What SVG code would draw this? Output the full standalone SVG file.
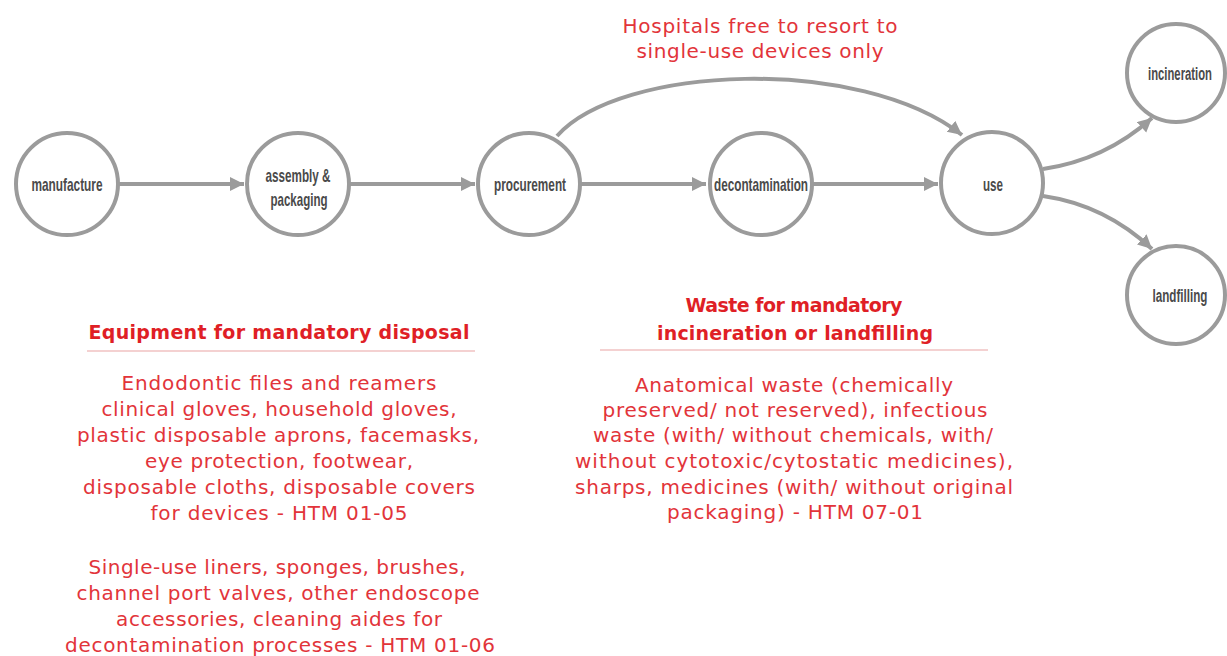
<svg xmlns="http://www.w3.org/2000/svg" width="1227" height="656" viewBox="0 0 1227 656">
<style>
.node circle{fill:#fff;stroke:#9b9b9b;stroke-width:4}
.node text{font-family:"Liberation Sans","DejaVu Sans",sans-serif;font-weight:bold;font-size:19px;fill:#4a4a4a;text-anchor:middle}
.conn path{fill:none;stroke:#9b9b9b;stroke-width:4}
.red{font-family:"DejaVu Sans","Liberation Sans",sans-serif;font-size:20px;fill:#e2343a;text-anchor:middle}
.hdr{font-family:"DejaVu Sans","Liberation Sans",sans-serif;font-size:19px;font-weight:bold;fill:#df1f26;text-anchor:middle}
.sep{stroke:#e9a3a3;stroke-width:1.2}
</style>
<defs>
<marker id="ah" markerUnits="userSpaceOnUse" markerWidth="16" markerHeight="16" refX="14" refY="7" orient="auto">
<path d="M0,0 L14,7 L0,14 z" fill="#9b9b9b"/>
</marker>
</defs>
<rect width="1227" height="656" fill="#fff"/>
<g id="connectors" class="conn">
<path d="M119,184 L244,184" marker-end="url(#ah)"/>
<path d="M350,184 L475,184" marker-end="url(#ah)"/>
<path d="M581,184 L706,184" marker-end="url(#ah)"/>
<path d="M813,184 L938,184" marker-end="url(#ah)"/>
<path d="M557,136 C620,65 860,55 962,135" marker-end="url(#ah)"/>
<path d="M1043,169 Q1105,160 1152,118" marker-end="url(#ah)"/>
<path d="M1043,196 Q1105,205 1152,249" marker-end="url(#ah)"/>
</g>
<g id="manufacture" class="node"><circle cx="67" cy="184" r="51"/><text x="67" y="191" textLength="71" lengthAdjust="spacingAndGlyphs">manufacture</text></g>
<g id="assembly" class="node"><circle cx="298" cy="184" r="51"/><text x="298" y="182" textLength="65" lengthAdjust="spacingAndGlyphs">assembly &amp;</text><text x="299" y="206" textLength="57" lengthAdjust="spacingAndGlyphs">packaging</text></g>
<g id="procurement" class="node"><circle cx="529" cy="184" r="51"/><text x="530" y="191" textLength="72" lengthAdjust="spacingAndGlyphs">procurement</text></g>
<g id="decontamination" class="node"><circle cx="761" cy="184" r="51"/><text x="761" y="191" textLength="94" lengthAdjust="spacingAndGlyphs">decontamination</text></g>
<g id="use" class="node"><circle cx="992" cy="183" r="51"/><text x="993" y="191" textLength="20" lengthAdjust="spacingAndGlyphs">use</text></g>
<g id="incineration" class="node"><circle cx="1176" cy="73" r="49"/><text transform="translate(1180,80) scale(0.593,1)" x="0" y="0">incineration</text></g>
<g id="landfilling" class="node"><circle cx="1176" cy="295" r="49"/><text transform="translate(1180,302) scale(0.613,1)" x="0" y="0">landfilling</text></g>
<g id="top-label">
<text class="red" x="760" y="33" textLength="275">Hospitals free to resort to</text>
<text class="red" x="760" y="58" textLength="247">single-use devices only</text>
</g>
<g id="equipment-block">
<text class="hdr" x="279" y="339" textLength="381">Equipment for mandatory disposal</text>
<line class="sep" x1="87" y1="351" x2="475" y2="351"/>
<text class="red" x="279" y="390" textLength="315">Endodontic files and reamers</text>
<text class="red" x="279" y="416" textLength="355">clinical gloves, household gloves,</text>
<text class="red" x="278" y="442" textLength="402">plastic disposable aprons, facemasks,</text>
<text class="red" x="279" y="468" textLength="268">eye protection, footwear,</text>
<text class="red" x="279" y="494" textLength="392">disposable cloths, disposable covers</text>
<text class="red" x="279" y="520" textLength="257">for devices - HTM 01-05</text>
<text class="red" x="277" y="574" textLength="377">Single-use liners, sponges, brushes,</text>
<text class="red" x="278" y="600" textLength="403">channel port valves, other endoscope</text>
<text class="red" x="279" y="626" textLength="326">accessories, cleaning aides for</text>
<text class="red" x="280" y="652" textLength="430">decontamination processes - HTM 01-06</text>
</g>
<g id="waste-block">
<text class="hdr" x="794" y="312" textLength="217">Waste for mandatory</text>
<text class="hdr" x="795" y="340" textLength="276">incineration or landfilling</text>
<line class="sep" x1="600" y1="350" x2="988" y2="350"/>
<text class="red" x="794" y="392" textLength="318">Anatomical waste (chemically</text>
<text class="red" x="795" y="417" textLength="385">preserved/ not reserved), infectious</text>
<text class="red" x="793" y="442" textLength="400">waste (with/ without chemicals, with/</text>
<text class="red" x="794" y="468" textLength="438">without cytotoxic/cytostatic medicines),</text>
<text class="red" x="794" y="494" textLength="438">sharps, medicines (with/ without original</text>
<text class="red" x="795" y="519" textLength="256">packaging) - HTM 07-01</text>
</g>
</svg>
